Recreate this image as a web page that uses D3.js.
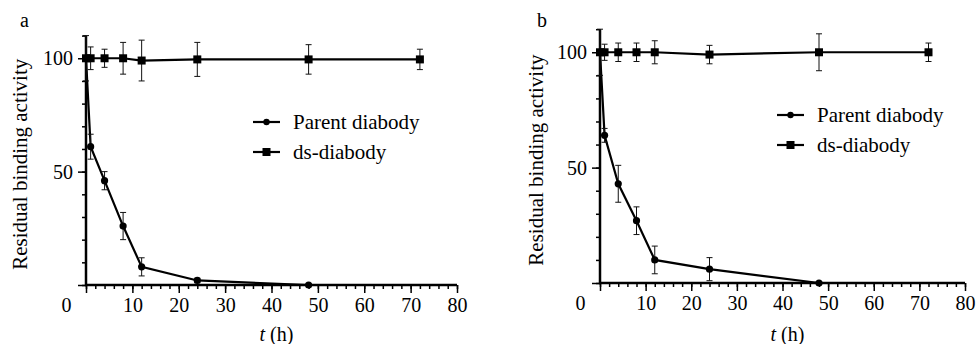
<!DOCTYPE html>
<html>
<head>
<meta charset="utf-8">
<script src="https://cdn.jsdelivr.net/npm/d3@7"></script>
<style>
  body { margin: 0; background: #fff; }
</style>
</head>
<body>
<svg id="chart" width="977" height="344" font-family="Liberation Serif"></svg>
<script>
const FONT = 'Liberation Serif';

// time points (h)
const parentTimes = [0, 1, 4, 8, 12, 24, 48];
const dsTimes = [0, 1, 4, 8, 12, 24, 48, 72];

// panel a
const parentA = [100, 61, 46, 26, 8, 2, 0];
const parentAErr = [0, 5.5, 4, 6, 4, 1, 0];
const dsA = [100, 100, 100, 100, 99, 99.5, 99.5, 99.5];
const dsAErr = [10, 5, 4, 7, 9, 7.5, 6.5, 4.5];

// panel b
const parentB = [100, 64, 43, 27, 10, 6, 0];
const parentBErr = [0, 3, 8, 6, 6, 5, 0];
const dsB = [100, 100, 100, 100, 100, 99, 100, 100];
const dsBErr = [10, 3.5, 4, 4, 5, 4, 8, 4];

const xMajor = [0, 10, 20, 30, 40, 50, 60, 70, 80];
const yMajor = [0, 50, 100];
const legendLabels = ['Parent diabody', 'ds-diabody'];

const svg = d3.select('#chart');

function panel(opt) {
  const x = d3.scaleLinear().domain([0, 80]).range([opt.x0, opt.x1]);
  const y = d3.scaleLinear().domain([0, 110]).range([opt.y0, opt.yTop]);
  const g = svg.append('g');

  // minor ticks
  g.append('g').attr('transform', `translate(0,${opt.y0})`)
    .call(d3.axisBottom(x).tickValues(d3.range(0, 81, 2)).tickSize(4).tickFormat(''));
  g.append('g').attr('transform', `translate(${opt.x0},0)`)
    .call(d3.axisLeft(y).tickValues(d3.range(0, 111, 10)).tickSize(4).tickFormat(''));

  // major ticks with labels
  const xa = g.append('g').attr('transform', `translate(0,${opt.y0})`)
    .call(d3.axisBottom(x).tickValues(xMajor).tickSize(8).tickPadding(5));
  xa.selectAll('text').attr('dx', d => d === 0 ? -20 : 0);
  g.append('g').attr('transform', `translate(${opt.x0},0)`)
    .call(d3.axisLeft(y).tickValues(yMajor).tickSize(8).tickPadding(5)
      .tickFormat(d => d === 0 ? '' : d));
  g.selectAll('g').attr('font-family', FONT);
  g.selectAll('.tick text').attr('font-size', 20).attr('fill', '#000').attr('font-family', FONT);

  g.selectAll('.domain').remove();
  g.selectAll('.tick line').attr('stroke', '#000').attr('stroke-width', 1.5);
  g.append('line').attr('x1', opt.x0 - 1).attr('x2', x(80)).attr('y1', opt.y0).attr('y2', opt.y0)
    .attr('stroke', '#000').attr('stroke-width', 2.5);
  g.append('line').attr('x1', opt.x0).attr('x2', opt.x0).attr('y1', opt.y0).attr('y2', y(110))
    .attr('stroke', '#000').attr('stroke-width', 2.5);

  const line = d3.line().x(d => x(d[0])).y(d => y(d[1]));
  const series = [
    { t: parentTimes, v: opt.parent, e: opt.parentErr, shape: 'circle' },
    { t: dsTimes, v: opt.ds, e: opt.dsErr, shape: 'square' }
  ];

  series.forEach(s => {
    const pts = s.t.map((t, i) => [t, s.v[i], s.e[i]]);
    g.append('path').datum(pts).attr('d', line)
      .attr('fill', 'none').attr('stroke', '#000').attr('stroke-width', 2.2);
    const eb = g.append('g').attr('stroke', '#111').attr('stroke-width', 1);
    pts.filter(p => p[2] > 0).forEach(p => {
      const cx = x(p[0]);
      eb.append('line').attr('x1', cx).attr('x2', cx).attr('y1', y(p[1] - p[2])).attr('y2', y(p[1] + p[2]));
      eb.append('line').attr('x1', cx - 3).attr('x2', cx + 3).attr('y1', y(p[1] - p[2])).attr('y2', y(p[1] - p[2]));
      eb.append('line').attr('x1', cx - 3).attr('x2', cx + 3).attr('y1', y(p[1] + p[2])).attr('y2', y(p[1] + p[2]));
    });
    if (s.shape === 'circle') {
      g.selectAll(null).data(pts).enter().append('circle')
        .attr('cx', d => x(d[0])).attr('cy', d => y(d[1])).attr('r', 3.6).attr('fill', '#000');
    } else {
      g.selectAll(null).data(pts).enter().append('rect')
        .attr('x', d => x(d[0]) - 4).attr('y', d => y(d[1]) - 4)
        .attr('width', 8).attr('height', 8).attr('fill', '#000');
    }
  });

  // legend
  legendLabels.forEach((lab, i) => {
    const ly = opt.legY + i * 30;
    g.append('line').attr('x1', opt.legX).attr('x2', opt.legX + 27).attr('y1', ly).attr('y2', ly)
      .attr('stroke', '#000').attr('stroke-width', 2.2);
    if (i === 0) {
      g.append('circle').attr('cx', opt.legX + 13.5).attr('cy', ly).attr('r', 3.2).attr('fill', '#000');
    } else {
      g.append('rect').attr('x', opt.legX + 9.5).attr('y', ly - 4).attr('width', 8).attr('height', 8).attr('fill', '#000');
    }
    g.append('text').attr('x', opt.legX + 40).attr('y', ly + 7)
      .attr('font-size', 21).attr('font-family', FONT).attr('fill', '#000').text(lab);
  });

  // axis titles
  g.append('text')
    .attr('transform', `translate(${opt.yTitleX},${(opt.y0 + y(110)) / 2 + 4}) rotate(-90)`)
    .attr('text-anchor', 'middle').attr('font-size', 21).attr('font-family', FONT).attr('fill', '#000')
    .text('Residual binding activity');
  const xt = g.append('text').attr('x', (opt.x0 + x(80)) / 2 + 5).attr('y', 341)
    .attr('text-anchor', 'middle').attr('font-size', 20).attr('font-family', FONT).attr('fill', '#000');
  xt.append('tspan').attr('font-style', 'italic').text('t');
  xt.append('tspan').text(' (h)');

  // panel letter
  g.append('text').attr('x', opt.letterX).attr('y', 27)
    .attr('font-size', 20).attr('font-family', FONT).attr('fill', '#000').text(opt.letter);
}

panel({
  x0: 86, x1: 457, y0: 285, yTop: 35.6,
  parent: parentA, parentErr: parentAErr, ds: dsA, dsErr: dsAErr,
  legX: 253, legY: 122, yTitleX: 27, letter: 'a', letterX: 20
});
panel({
  x0: 600, x1: 965, y0: 283, yTop: 29.2,
  parent: parentB, parentErr: parentBErr, ds: dsB, dsErr: dsBErr,
  legX: 777, legY: 115, yTitleX: 543, letter: 'b', letterX: 537
});
</script>
</body>
</html>
